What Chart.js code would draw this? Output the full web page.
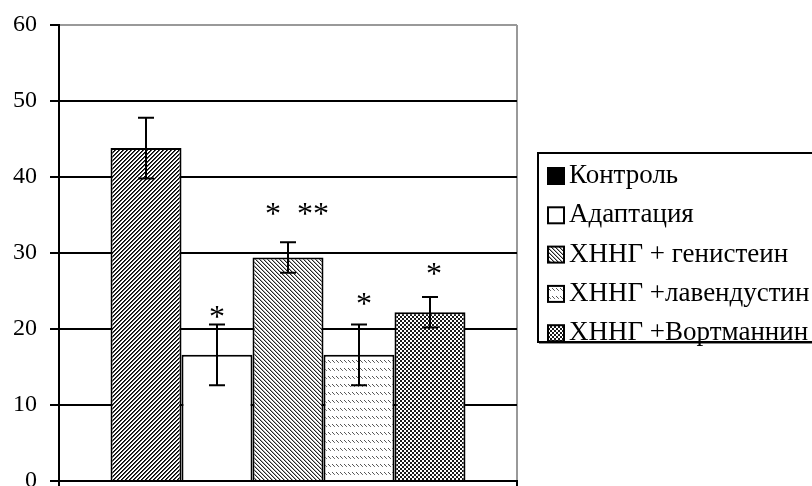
<!DOCTYPE html>
<html>
<head>
<meta charset="utf-8">
<script src="https://cdn.jsdelivr.net/npm/chart.js@4.4.1/dist/chart.umd.min.js"></script>
<style>
  html, body { margin: 0; padding: 0; background: #fff; }
  #wrap { width: 812px; height: 486px; }
</style>
</head>
<body>
<div id="wrap"><canvas id="c" width="812" height="486"></canvas></div>
<script>
// Group names, means, error half-widths and significance marks
const groups = ['Контроль', 'Адаптация', 'ХННГ + генистеин', 'ХННГ +лавендустин', 'ХННГ +Вортманнин'];
const means  = [43.8, 16.6, 29.4, 16.6, 22.2];
const errors = [4.0, 4.0, 2.0, 4.0, 2.0];
const marks  = ['', '*', '*  **', '*', '*'];
const yTicks = [0, 10, 20, 30, 40, 50, 60];

const SERIF = '"Liberation Serif", "Times New Roman", Times, serif';

// Small tiled fills in the style of classic office-chart hatching
function tile(w, h, paint) {
  const cv = document.createElement('canvas');
  cv.width = w; cv.height = h;
  const g = cv.getContext('2d');
  g.fillStyle = '#fff';
  g.fillRect(0, 0, w, h);
  paint(g, w, h);
  return document.getElementById('c').getContext('2d').createPattern(cv, 'repeat');
}
function px(g, x, y, c) { g.fillStyle = c; g.fillRect(x, y, 1, 1); }

const fillUpDiag = tile(4, 4, (g) => {           // dense "/" lines
  for (let y = 0; y < 4; y++) for (let x = 0; x < 4; x++) {
    const k = (x + y) % 4;
    if (k === 0) px(g, x, y, '#000');
    else if (k === 1) px(g, x, y, '#444');
  }
});
const fillDownDiag = tile(4, 4, (g) => {         // lighter "\" lines
  for (let y = 0; y < 4; y++) for (let x = 0; x < 4; x++) {
    const k = ((x - y) % 4 + 4) % 4;
    if (k === 0) px(g, x, y, '#222');
    else if (k === 1) px(g, x, y, '#aaa');
  }
});
const fillDashRows = tile(4, 8, (g) => {         // rows of short "\" strokes
  px(g, 0, 0, '#555'); px(g, 1, 1, '#555'); px(g, 2, 2, '#777');
});
const fillChecker = tile(4, 4, (g) => {          // fine checkerboard
  g.fillStyle = '#1a1a1a';
  g.fillRect(0, 0, 2, 2);
  g.fillRect(2, 2, 2, 2);
});

const barFills    = [fillUpDiag, '#fff', fillDownDiag, fillDashRows, fillChecker];
const legendFills = ['#000', '#fff', fillDownDiag, fillDashRows, fillChecker];

const datasets = groups.map((name, i) => ({
  label: name,
  data: [means[i]],
  backgroundColor: barFills[i],
  borderColor: '#000',
  borderWidth: 2,
  borderSkipped: 'start',
  categoryPercentage: 0.775,
  barPercentage: 1.0
}));

// Error bars, significance marks and the boxed legend
const extras = {
  id: 'extras',
  afterDatasetsDraw(chart, args, opts) {
    const ctx = chart.ctx;
    const ys = chart.scales.y;
    ctx.save();
    ctx.strokeStyle = '#000';
    ctx.lineWidth = 2;
    chart.data.datasets.forEach((ds, i) => {
      const bar = chart.getDatasetMeta(i).data[0];
      const x = Math.round(bar.x);
      const top = ys.getPixelForValue(means[i] + errors[i]);
      const bot = ys.getPixelForValue(means[i] - errors[i]);
      const cap = opts.capWidth / 2;
      ctx.beginPath();
      ctx.moveTo(x, top); ctx.lineTo(x, bot);
      ctx.moveTo(x - cap, top); ctx.lineTo(x + cap, top);
      ctx.moveTo(x - cap, bot); ctx.lineTo(x + cap, bot);
      ctx.stroke();

      if (marks[i]) {
        ctx.fillStyle = '#000';
        ctx.font = '32px ' + SERIF;
        ctx.textAlign = 'center';
        ctx.textBaseline = 'alphabetic';
        const cy = ys.getPixelForValue(opts.markAt[i]);
        ctx.fillText(marks[i], x + opts.markShift[i], cy + 15);
      }
    });
    ctx.restore();
  },
  afterDraw(chart, args, opts) {
    const ctx = chart.ctx;
    const L = opts.box;
    ctx.save();
    ctx.fillStyle = '#fff';
    ctx.fillRect(L.x, L.y, L.w, L.h);
    ctx.strokeStyle = '#000';
    ctx.lineWidth = 2;
    ctx.strokeRect(L.x, L.y, L.w, L.h);
    // soft edge under the frame
    ctx.strokeStyle = '#8a8a8a';
    ctx.lineWidth = 1;
    ctx.beginPath();
    ctx.moveTo(L.x + 1, L.y + L.h + 1.5);
    ctx.lineTo(L.x + L.w, L.y + L.h + 1.5);
    ctx.stroke();

    ctx.font = '27px ' + SERIF;
    ctx.textAlign = 'left';
    ctx.textBaseline = 'alphabetic';
    groups.forEach((name, i) => {
      const base = L.firstBase + i * L.step;
      ctx.fillStyle = legendFills[i];
      ctx.fillRect(L.x + 10, base - 15, 16, 16);
      ctx.strokeStyle = '#000';
      ctx.lineWidth = 2;
      ctx.strokeRect(L.x + 10, base - 15, 16, 16);
      ctx.fillStyle = '#000';
      ctx.fillText(name, L.x + 31, base);
    });
    ctx.restore();
  }
};

new Chart(document.getElementById('c'), {
  type: 'bar',
  data: { labels: [''], datasets },
  plugins: [extras],
  options: {
    responsive: false,
    animation: false,
    devicePixelRatio: 1,
    layout: { padding: { top: 25, right: 295, bottom: 0, left: 0 } },
    plugins: {
      legend: { display: false },
      tooltip: { enabled: false },
      extras: {
        capWidth: 16,
        markAt: [0, 22.3, 35.8, 23.9, 27.9],
        markShift: [0, 0, 9, 5, 4],
        box: { x: 538, y: 153, w: 300, h: 189, firstBase: 183, step: 39.3 }
      }
    },
    scales: {
      x: {
        ticks: { display: false },
        grid: {
          offset: true,
          drawOnChartArea: true,
          color: (c) => (c.index === 0 ? '#000' : '#999'),
          tickColor: '#000',
          lineWidth: 2,
          tickLength: 6
        },
        border: { color: '#000', width: 2 },
        afterFit: (s) => { s.height = 5; s.paddingLeft = 0; s.paddingRight = 0; }
      },
      y: {
        min: 0,
        max: 60,
        afterBuildTicks: (s) => { s.ticks = yTicks.map((v) => ({ value: v })); },
        ticks: {
          color: '#000',
          padding: 13,
          font: { family: SERIF, size: 24 }
        },
        grid: {
          color: (c) => (c.tick && c.tick.value === 60 ? '#999' : '#000'),
          tickColor: '#000',
          lineWidth: 2,
          tickLength: 9
        },
        border: { color: '#000', width: 2 },
        afterFit: (s) => { s.width = 59; s.paddingTop = 0; s.paddingBottom = 0; }
      }
    }
  }
});
</script>
</body>
</html>
